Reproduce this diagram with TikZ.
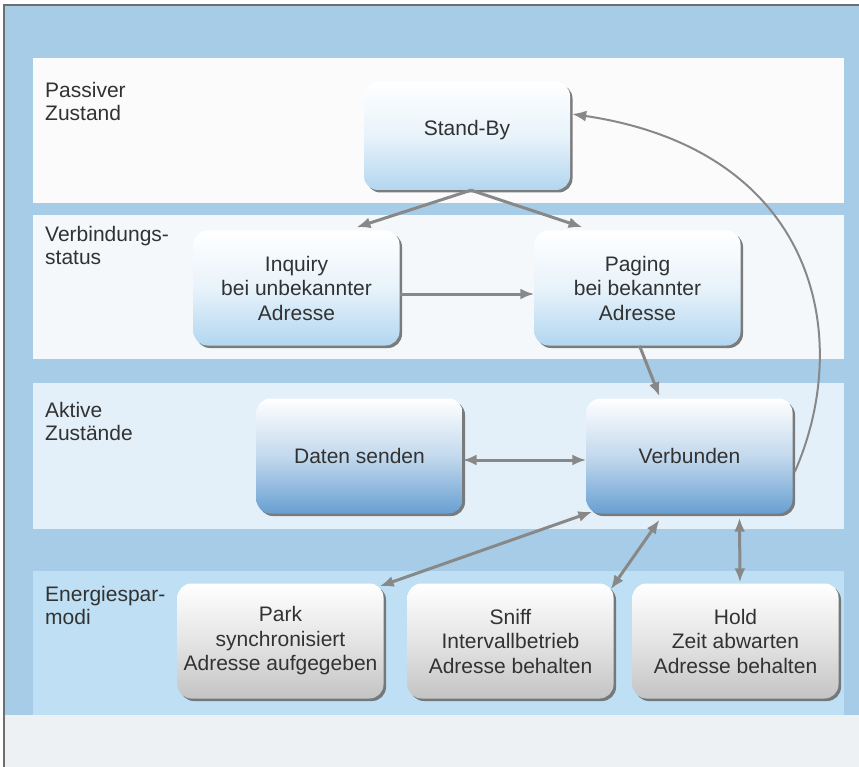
\documentclass[tikz,border=0pt]{standalone}
\usepackage{fontspec}
\setmainfont{Liberation Sans}
\usetikzlibrary{arrows.meta,shadows,calc}
\definecolor{bgblue}{RGB}{166,204,232}
\definecolor{bandA}{RGB}{251,251,251}
\definecolor{bandB}{RGB}{245,248,250}
\definecolor{bandC}{RGB}{228,240,249}
\definecolor{bandD}{RGB}{190,223,244}
\definecolor{bottombg}{RGB}{237,241,244}
\definecolor{framecol}{RGB}{110,110,110}
\definecolor{arrowgray}{RGB}{136,136,136}
\definecolor{txt}{RGB}{50,50,50}
\definecolor{lightbot}{RGB}{178,214,240}
\definecolor{darkbot}{RGB}{104,160,210}
\definecolor{graybot}{RGB}{196,196,196}
\begin{document}
\begin{tikzpicture}[x=1pt,y=-1pt,
  state/.style={rectangle, rounded corners=14pt, minimum width=206pt, minimum height=115pt,
    align=center, text=txt, font=\fontsize{21}{24.5}\selectfont, inner sep=0pt,
    drop shadow={shadow xshift=2.5pt, shadow yshift=-2.5pt, fill=black!60, opacity=0.85}},
  paleblue/.style={state, top color=white, bottom color=lightbot, middle color=lightbot!30!white},
  deepblue/.style={state, top color=white, bottom color=darkbot, middle color=darkbot!40!white},
  grayish/.style={state, top color=white, bottom color=graybot, middle color=graybot!45!white},
  tipA/.tip={Latex[length=14pt,width=11pt]},
  conn/.style={draw=arrowgray, line width=3pt, -tipA},
  biconn/.style={draw=arrowgray, line width=3pt, tipA-tipA},
  backconn/.style={draw=arrowgray, line width=2pt, -tipA},
  lane/.style={anchor=north west, align=left, text=txt, font=\fontsize{21}{23.5}\selectfont, inner sep=0pt}
]
\useasboundingbox (0,0) rectangle (859,767);
% background
\fill[white] (0,0) rectangle (859,767);
\fill[bgblue] (4,5) rectangle (859,715);
\fill[bottombg] (4,715) rectangle (859,767);
\fill[bandA] (33,58) rectangle (844,203);
\fill[bandB] (33,215) rectangle (844,359);
\fill[bandC] (33,383) rectangle (844,529);
\fill[bandD] (33,571) rectangle (844,715);
\draw[framecol, line width=1.2pt] (4,767) -- (4,5) -- (859,5);

% lane labels
\node[lane] (l1) at (45,82) {Passiver\\Zustand};
\node[lane] (l2) at (45,226) {Verbindungs-\\status};
\node[lane] (l3) at (45,402) {Aktive\\Zustände};
\node[lane] (l4) at (45,586) {Energiespar-\\modi};

% states
\node[paleblue, minimum height=108pt] (sb) at (467,136) {\raisebox{6pt}[15pt][4pt]{Stand-By}};
\node[paleblue] (inq) at (296.5,288) {Inquiry\\bei unbekannter\\Adresse};
\node[paleblue] (pag) at (637.5,288) {Paging\\bei bekannter\\Adresse};
\node[deepblue] (dat) at (359.5,456) {Daten senden};
\node[deepblue] (ver) at (689.5,456) {Verbunden};
\node[grayish] (park) at (280.5,641) {Park\\synchronisiert\\Adresse aufgegeben};
\node[grayish] (sniff) at (510.5,641) {Sniff\\Intervallbetrieb\\Adresse behalten};
\node[grayish] (hold) at (735.5,641) {Hold\\Zeit abwarten\\Adresse behalten};

% connectors
\draw[conn] ([xshift=4pt]sb.south) -- ([xshift=60pt,yshift=3pt]inq.north);
\draw[conn] ([xshift=4pt]sb.south) -- ([xshift=-55pt,yshift=3pt]pag.north);
\draw[conn] ([yshift=-6pt]inq.east) -- ([yshift=-6pt]pag.west);
\draw[conn] ([xshift=2pt]pag.south) -- ([xshift=-30pt,yshift=2pt]ver.north);
\draw[biconn] ([yshift=-4pt]dat.east) -- ([yshift=-4pt]ver.west);
\draw[biconn] ([xshift=-4pt,yshift=-3pt]park.north east) -- ([xshift=6pt,yshift=2pt]ver.south west);
\draw[biconn] ([xshift=-3pt,yshift=-6pt]sniff.north east) -- ([xshift=-30pt,yshift=-6pt]ver.south);
\draw[biconn] ([xshift=4.5pt,yshift=1pt]hold.north) -- ([xshift=50pt,yshift=-4pt]ver.south);
\draw[backconn] ([xshift=2pt,yshift=-16pt]ver.east) .. controls (855,335) and (815,150) .. ([xshift=2pt,yshift=22pt]sb.east);
\end{tikzpicture}
\end{document}
